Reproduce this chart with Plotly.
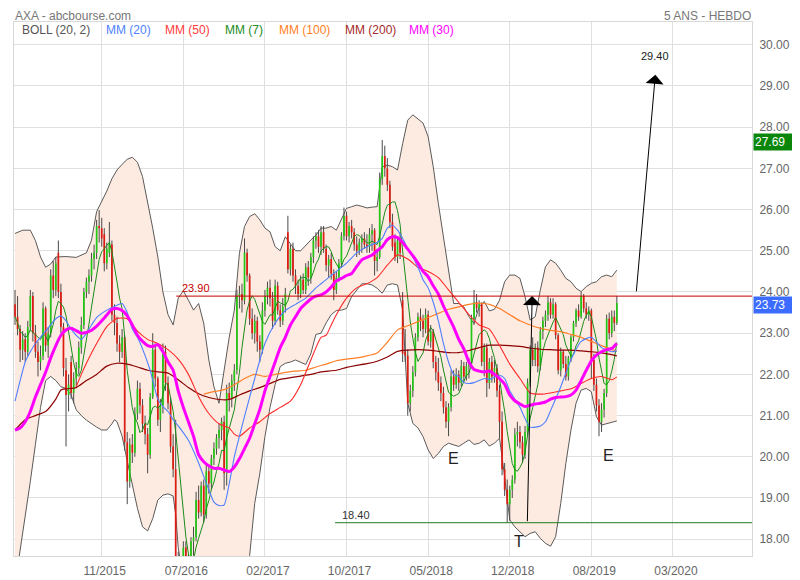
import pandas as pd
import plotly.graph_objects as go

# ---------------- weekly OHLC (AXA, weekly bars from 2015-04-06) ----------------
opens = [23.70,23.40,23.10,22.60,22.85,22.55,23.15,23.90,23.00,22.55,22.30,22.45,23.60,22.70,23.00,24.40,24.05,24.95,24.00,23.15,
         22.10,21.50,22.30,21.55,21.90,22.15,22.65,23.20,24.00,24.25,24.40,24.80,24.95,25.60,25.55,25.40,24.70,24.95,25.15,23.45,
         23.25,22.75,22.55,22.90,20.35,19.40,20.30,20.10,21.05,21.65,21.25,20.80,20.55,20.05,21.45,22.60,21.90,20.90,21.25,22.55,
         21.80,21.30,20.25,19.70,17.35,16.80,17.15,17.80,17.30,17.45,17.95,18.05,18.95,18.65,19.30,18.60,19.65,19.35,19.95,20.20,
         20.45,20.65,20.85,19.60,21.55,21.40,21.85,22.10,23.90,23.95,23.80,24.95,24.40,23.35,23.00,23.30,22.80,22.60,23.55,23.90,
         24.10,23.85,23.30,24.15,23.55,23.30,23.65,25.45,24.55,25.05,24.40,24.15,23.95,24.30,24.05,24.60,24.35,24.85,25.25,25.35,
         25.10,25.45,25.05,24.65,24.80,24.45,24.05,24.35,24.70,25.35,25.85,25.35,25.60,25.45,25.15,25.00,25.20,25.30,25.15,25.10,
         25.40,25.50,24.75,24.85,26.75,27.30,27.00,26.60,25.70,25.20,24.85,25.25,23.80,22.55,22.45,21.30,21.60,22.05,22.90,23.40,
         23.30,23.10,23.45,22.80,23.05,22.30,22.05,21.80,21.55,21.20,20.85,21.20,21.95,21.75,22.00,21.80,22.20,21.95,22.20,22.25,
         23.35,23.75,23.60,23.70,22.30,22.65,21.80,22.30,21.95,22.15,21.60,20.85,19.70,19.20,18.85,19.20,19.45,20.55,20.60,20.35,
         20.05,20.60,21.80,22.60,22.35,22.65,22.20,23.05,23.30,23.45,23.75,23.45,23.70,22.95,22.10,22.55,22.25,21.95,22.40,22.90,
         23.25,23.55,23.40,23.90,23.60,23.45,23.55,22.35,21.75,21.25,20.85,21.15,21.55,23.35,23.00,23.40,23.25]
highs = [24.05,23.90,23.20,23.05,23.00,23.30,24.05,24.00,23.20,22.80,22.70,23.75,23.65,23.15,24.55,24.75,24.85,25.25,24.20,23.25,
         22.40,22.00,22.45,22.05,22.30,22.80,23.40,24.10,24.35,24.55,24.95,25.15,25.75,25.99,25.80,25.55,25.20,25.70,25.25,23.70,
         23.40,22.95,23.10,22.95,20.60,20.45,20.55,21.20,21.85,21.80,21.40,21.00,20.70,21.55,23.00,22.75,21.95,21.40,22.75,22.70,
         21.95,21.45,20.55,20.90,17.70,17.40,17.95,17.95,17.65,18.05,18.30,19.15,19.30,19.40,19.45,19.80,19.75,20.05,20.35,20.55,
         20.80,20.95,21.00,21.75,21.80,22.00,22.25,24.05,24.15,24.20,25.30,25.05,24.45,23.60,23.45,23.40,22.95,23.75,24.05,24.25,
         24.30,24.00,24.30,24.25,23.70,23.85,24.10,25.85,25.15,25.20,24.55,24.30,24.40,24.45,24.70,24.75,24.95,25.35,25.45,25.50,
         25.60,25.60,25.15,24.90,24.95,24.55,24.50,24.80,25.45,26.05,25.95,25.70,25.75,25.55,25.35,25.30,25.40,25.45,25.40,25.55,
         25.65,25.55,25.05,26.90,27.69,27.55,27.25,26.70,25.90,25.40,25.35,25.45,24.00,23.10,22.60,21.75,22.20,23.00,23.50,23.60,
         23.45,23.60,23.55,23.20,23.10,22.45,22.40,21.95,21.70,21.35,21.30,22.10,22.10,22.15,22.10,22.35,22.30,22.30,22.40,23.45,
         24.05,23.95,23.80,23.75,22.75,22.75,22.40,22.45,22.35,22.25,21.75,21.10,19.85,19.45,19.30,19.55,20.70,20.85,20.75,20.50,
         20.75,21.90,22.70,22.90,22.75,22.80,23.15,23.40,23.55,23.90,23.85,23.85,23.75,23.00,22.65,22.60,22.45,22.45,22.95,23.30,
         23.60,23.70,24.00,23.95,23.75,23.65,23.60,22.50,21.90,21.40,21.30,21.65,23.45,23.50,23.55,23.55,23.90]
lows = [23.20,22.95,22.30,22.35,22.30,22.45,23.05,22.80,22.40,21.95,22.10,22.35,22.55,22.40,22.90,23.85,23.90,23.85,23.00,21.95,
        20.25,21.10,21.40,21.30,21.70,22.00,22.50,23.10,23.85,23.95,24.25,24.55,24.80,25.20,25.10,24.50,24.55,24.85,23.30,22.95,
        22.55,22.30,22.40,20.15,18.85,19.25,19.85,20.00,20.90,21.05,20.60,20.30,19.60,19.95,21.40,21.70,20.75,20.60,21.05,21.60,
        21.15,20.10,19.50,16.50,15.90,16.40,16.95,17.05,16.90,17.30,17.60,17.95,18.50,18.55,18.40,18.50,19.10,19.20,19.80,20.05,
        20.20,20.40,19.20,19.30,21.10,21.20,21.60,22.00,23.60,23.50,23.70,24.25,23.20,22.85,22.75,22.55,22.30,22.50,23.40,23.70,
        23.65,23.10,23.20,23.45,23.15,23.20,23.50,24.45,24.40,24.25,23.95,23.80,23.85,23.95,23.95,24.15,24.20,24.70,25.05,24.95,
        24.90,24.95,24.50,24.35,24.30,23.80,23.95,24.25,24.60,25.25,25.25,25.20,25.30,25.00,24.85,24.90,24.95,25.05,24.95,24.95,
        25.00,24.40,24.50,24.80,26.60,26.80,26.45,25.55,25.00,24.75,24.70,24.80,22.30,22.30,21.00,21.10,21.45,21.95,22.80,23.05,
        22.90,23.00,22.70,22.65,22.15,21.85,21.60,21.35,21.05,20.70,20.50,21.10,21.60,21.65,21.60,21.70,21.80,21.85,21.90,22.15,
        23.20,23.50,23.40,22.20,21.95,21.45,21.65,21.80,21.80,21.45,20.45,19.55,19.05,18.40,18.45,19.00,19.35,20.25,20.20,19.85,
        19.95,20.50,21.70,22.20,22.20,22.05,22.10,22.85,23.15,23.30,23.35,23.35,22.85,22.00,21.95,22.15,21.85,21.85,22.30,22.80,
        23.15,23.30,23.35,23.50,23.35,23.30,21.90,21.60,21.10,20.50,20.60,20.95,21.45,22.85,22.90,23.05,23.20]
closes = [23.40,23.10,22.60,22.85,22.55,23.15,23.90,23.00,22.55,22.30,22.45,23.60,22.70,23.00,24.40,24.05,24.70,24.00,23.15,22.15,
          21.50,21.75,21.55,21.90,22.15,22.65,23.20,24.00,24.25,24.40,24.80,24.95,25.60,25.55,25.30,24.70,25.05,25.20,23.45,23.25,
          22.75,22.55,22.90,20.35,19.40,20.30,20.10,21.05,21.65,21.25,20.80,20.55,20.05,21.45,22.60,21.90,20.90,21.25,22.55,21.80,
          21.30,20.25,19.70,17.35,16.80,17.15,17.80,17.30,17.45,17.95,18.05,18.95,18.65,19.30,18.60,19.65,19.35,19.95,20.20,20.45,
          20.65,20.85,19.60,21.55,21.40,21.85,22.10,23.90,23.95,23.80,24.95,24.40,23.35,23.00,23.30,22.80,22.60,23.55,23.90,24.10,
          23.85,23.30,24.15,23.55,23.30,23.65,23.95,24.55,25.05,24.40,24.15,23.95,24.30,24.05,24.60,24.35,24.85,25.25,25.35,25.10,
          25.45,25.05,24.65,24.80,24.45,24.05,24.35,24.70,25.35,25.85,25.35,25.60,25.45,25.15,25.00,25.20,25.30,25.15,25.10,25.40,
          25.50,24.75,24.85,26.75,27.30,27.00,26.60,25.70,25.10,24.85,25.25,24.95,22.50,22.45,21.30,21.60,22.05,22.90,23.40,23.30,
          23.10,23.45,22.80,23.05,22.30,22.05,21.80,21.55,21.20,20.85,21.20,21.95,21.75,22.00,21.80,22.20,21.95,22.20,22.25,23.35,
          23.75,23.60,23.70,22.30,22.65,21.80,22.30,21.95,22.15,21.60,20.85,19.70,19.20,18.85,19.20,19.45,20.55,20.60,20.35,20.05,
          20.60,21.80,22.60,22.35,22.65,22.20,23.05,23.30,23.45,23.75,23.45,23.70,22.95,22.10,22.55,22.25,21.95,22.40,22.90,23.25,
          23.55,23.40,23.90,23.60,23.45,23.55,22.35,21.75,21.25,20.85,21.15,21.55,23.35,23.00,23.40,23.25,23.73]

# ---------------- indicators: [bar number, value] ----------------
boll_upper = [[0,25.42],[3,25.50],[6,25.50],[8,25.25],[10,24.85],[12,24.60],[14,24.68],[16,24.85],[20,24.86],[24,24.84],
              [28,24.95],[30,25.26],[32,25.95],[34,26.20],[36,26.45],[38,26.75],[40,26.96],[42,27.10],[44,27.22],[46,27.27],
              [48,27.15],[50,26.80],[52,26.20],[54,25.55],[56,24.85],[58,24.00],[60,23.45],[62,23.20],[64,23.85],[66,24.03],
              [68,23.80],[70,23.56],[72,23.72],[74,23.24],[76,22.35],[78,21.70],[80,21.30],[82,22.10],[84,22.90],[86,23.56],
              [88,24.94],[90,25.59],[92,25.83],[94,25.90],[96,25.75],[98,25.55],[100,25.46],[102,25.10],[104,25.00],[106,25.34],
              [108,25.18],[110,25.00],[112,25.00],[114,25.14],[116,25.26],[118,25.38],[120,25.55],[122,25.55],[124,25.59],[126,25.50],
              [128,25.75],[130,26.03],[132,26.07],[134,26.11],[136,26.08],[138,26.04],[140,26.06],[142,26.07],[144,27.04],[146,27.08],
              [148,27.04],[150,26.96],[152,27.60],[154,28.17],[156,28.30],[158,28.20],[160,28.10],[162,27.77],[164,27.04],[166,26.15],
              [168,25.34],[170,24.53],[172,23.72],[174,23.72],[176,23.64],[178,23.40],[180,23.24],[182,23.64],[184,23.77],[186,23.54],
              [188,23.58],[190,23.80],[192,24.25],[194,24.41],[196,24.41],[198,24.33],[200,23.89],[202,23.32],[204,23.40],[206,24.05],
              [208,24.61],[210,24.78],[212,24.70],[214,24.53],[216,24.33],[218,24.25],[220,24.09],[222,24.01],[224,24.13],[226,24.21],
              [228,24.25],[230,24.37],[232,24.41],[234,24.37],[236,24.53]]
boll_lower = [[0,16.90],[2,17.70],[4,18.50],[6,19.40],[8,20.30],[10,21.20],[12,21.85],[14,21.95],[16,21.85],[18,21.70],
              [20,21.66],[22,21.50],[24,21.14],[26,21.00],[28,20.89],[30,20.80],[32,20.72],[34,20.65],[36,20.65],[38,20.80],
              [39,20.90],[40,20.85],[42,20.50],[44,19.90],[46,19.30],[48,18.75],[50,18.30],[52,18.20],[54,18.50],[56,18.95],
              [58,19.07],[60,19.10],[62,19.05],[63,18.60],[64,17.80],[66,16.90],[68,16.20],[70,15.80],[72,15.70],[74,15.80],
              [76,16.00],[78,16.30],[80,16.60],[82,16.80],[84,16.90],[86,17.00],[88,17.10],[90,17.30],[92,17.60],[94,18.87],
              [96,19.60],[98,20.49],[100,21.20],[102,21.75],[104,22.19],[106,22.27],[108,22.30],[110,22.35],[112,22.30],[114,22.24],
              [116,22.50],[118,22.97],[120,23.00],[122,23.25],[124,23.45],[126,23.55],[128,23.56],[130,23.60],[132,23.89],[134,24.05],
              [136,24.20],[138,24.20],[140,24.17],[142,24.09],[144,23.97],[146,24.17],[148,24.20],[150,24.17],[152,23.56],[154,21.30],
              [156,20.81],[158,20.70],[160,20.49],[162,20.17],[164,19.96],[166,20.08],[168,20.25],[170,20.33],[172,20.29],[174,20.25],
              [176,20.33],[178,20.41],[180,20.30],[182,20.33],[184,20.41],[186,20.26],[188,20.33],[190,20.45],[192,19.52],[194,18.47],
              [196,18.30],[198,18.18],[200,18.06],[202,18.14],[204,18.18],[206,18.02],[208,17.90],[210,17.83],[212,18.06],[214,18.87],
              [216,19.84],[218,20.65],[220,21.30],[222,21.62],[224,21.66],[226,21.58],[228,20.97],[230,20.77],[232,20.80],[234,20.83],
              [236,20.87]]
mm20 = [[0,21.35],[2,21.85],[4,22.30],[6,22.55],[8,22.75],[12,23.05],[16,23.35],[18,23.42],[20,23.30],[22,23.10],[24,22.95],
        [26,22.85],[28,23.00],[30,23.20],[32,23.38],[36,23.56],[40,23.68],[42,23.72],[44,23.50],[46,23.10],[48,22.90],[50,22.62],
        [53,22.10],[56,21.40],[58,21.22],[60,21.10],[62,20.90],[64,20.75],[68,20.40],[72,19.85],[76,19.20],[78,18.90],[80,18.82],
        [82,18.83],[84,19.35],[86,20.00],[88,20.50],[90,20.98],[94,21.90],[98,22.75],[102,23.24],[106,23.55],[110,23.70],[114,23.85],
        [118,24.10],[120,24.20],[122,24.30],[126,24.50],[130,24.70],[134,24.95],[138,25.10],[142,25.20],[144,25.30],[146,25.55],
        [148,25.62],[150,25.50],[152,25.30],[154,25.05],[156,24.85],[158,24.60],[160,24.30],[162,24.10],[164,23.75],[166,23.30],
        [168,22.75],[170,22.30],[172,22.00],[174,21.95],[176,21.80],[178,21.78],[180,21.80],[182,21.85],[184,21.90],[186,21.88],
        [190,21.98],[192,21.90],[194,21.60],[198,21.20],[202,20.72],[206,20.75],[208,20.85],[210,21.12],[214,21.70],[218,22.35],
        [222,22.80],[226,22.90],[230,22.65],[234,22.55],[236,22.57]]
mm50 = [[24,21.70],[26,22.00],[28,22.27],[32,22.75],[36,23.16],[40,23.36],[44,23.35],[48,23.05],[52,22.85],[56,22.75],
        [60,22.60],[64,22.37],[68,22.00],[72,21.46],[76,21.05],[80,20.80],[84,20.70],[86,20.55],[88,20.50],[92,20.70],
        [96,20.85],[100,21.05],[104,21.20],[108,21.35],[112,21.75],[116,22.35],[120,22.90],[122,22.95],[124,23.20],[126,23.45],
        [130,23.85],[134,24.10],[138,24.20],[142,24.35],[146,24.65],[150,24.90],[154,24.80],[158,24.60],[162,24.50],[166,24.35],
        [170,24.05],[174,23.75],[178,23.45],[182,23.20],[186,23.10],[190,22.70],[194,22.25],[198,21.90],[202,21.55],[206,21.52],
        [210,21.55],[214,21.60],[218,21.65],[222,21.78],[226,21.90],[230,21.95],[234,21.87],[236,21.94]]
mm100 = [[74,21.52],[78,21.58],[82,21.63],[86,21.75],[90,21.90],[94,22.00],[98,21.95],[102,22.00],[106,22.05],[110,22.08],
         [114,22.10],[118,22.18],[122,22.25],[126,22.33],[130,22.37],[134,22.40],[138,22.45],[142,22.52],[146,22.78],[150,23.08],
         [154,23.18],[158,23.28],[162,23.38],[166,23.48],[170,23.58],[174,23.64],[178,23.70],[182,23.73],[184,23.72],[186,23.70],
         [190,23.60],[194,23.45],[198,23.30],[202,23.20],[206,23.12],[210,23.07],[214,23.04],[218,22.97],[222,22.90],[226,22.80],
         [230,22.70],[234,22.60],[236,22.57]]
mm200 = [[0,20.65],[4,20.90],[8,21.00],[12,21.10],[16,21.40],[18,21.62],[20,21.65],[24,21.68],[28,21.85],[32,22.00],
         [36,22.20],[40,22.27],[44,22.25],[48,22.18],[52,22.10],[56,22.06],[60,22.03],[64,21.87],[68,21.68],[72,21.53],
         [76,21.44],[80,21.39],[84,21.39],[88,21.50],[92,21.60],[96,21.68],[100,21.78],[104,21.88],[108,21.92],[112,21.96],
         [116,22.00],[120,22.06],[126,22.10],[130,22.17],[134,22.22],[138,22.26],[142,22.32],[146,22.42],[150,22.56],[154,22.59],
         [158,22.60],[162,22.59],[166,22.56],[170,22.53],[174,22.53],[178,22.58],[182,22.65],[186,22.71],[190,22.71],[194,22.70],
         [198,22.68],[202,22.64],[206,22.61],[210,22.60],[214,22.59],[218,22.59],[222,22.57],[226,22.55],[230,22.52],[234,22.48],
         [236,22.45]]
mm30 = [[0,20.65],[2,20.70],[4,20.85],[6,21.10],[8,21.45],[10,21.75],[12,22.05],[14,22.40],[16,22.70],[18,22.95],[20,23.08],
        [22,23.12],[24,23.06],[26,23.00],[28,23.02],[30,23.07],[32,23.17],[34,23.30],[36,23.44],[38,23.58],[40,23.60],[42,23.55],
        [44,23.42],[46,23.20],[48,22.95],[50,22.80],[52,22.70],[54,22.68],[56,22.72],[58,22.55],[60,22.30],[62,22.10],[64,21.60],
        [66,21.20],[68,20.85],[70,20.50],[72,20.05],[74,19.88],[76,19.78],[78,19.72],[80,19.72],[82,19.68],[84,19.64],[86,19.75],
        [88,19.95],[90,20.20],[92,20.45],[94,20.80],[96,21.15],[98,21.60],[100,21.95],[102,22.30],[104,22.65],[106,22.90],[108,23.20],
        [110,23.40],[112,23.60],[114,23.72],[116,23.83],[118,23.90],[120,23.93],[122,24.00],[124,24.12],[126,24.27],[128,24.33],
        [130,24.40],[132,24.45],[134,24.62],[136,24.78],[138,24.84],[140,24.90],[142,25.00],[144,25.10],[146,25.27],[148,25.34],
        [150,25.32],[152,25.20],[154,25.04],[156,24.88],[158,24.70],[160,24.50],[162,24.37],[164,24.15],[166,23.95],[168,23.66],
        [170,23.40],[172,23.15],[174,22.85],[176,22.62],[178,22.30],[180,22.12],[182,22.08],[184,22.06],[186,22.08],[188,22.00],
        [190,21.90],[192,21.76],[194,21.50],[196,21.36],[198,21.28],[200,21.22],[202,21.25],[204,21.28],[206,21.30],[208,21.33],
        [210,21.40],[212,21.44],[214,21.45],[216,21.46],[218,21.50],[220,21.62],[222,21.85],[224,22.10],[226,22.33],[228,22.47],
        [230,22.55],[232,22.60],[234,22.63],[236,22.75]]

# x-axis labels (dates of the labelled bars)
tick_dates = ["2015-11-30", "2016-07-11", "2017-02-20", "2017-10-02",
              "2018-05-14", "2018-12-24", "2019-08-05", "2020-03-16"]
tick_labels = ["11/2015", "07/2016", "02/2017", "10/2017", "05/2018", "12/2018", "08/2019", "03/2020"]
price_ticks = [18, 19, 20, 21, 22, 23, 24, 25, 26, 27, 28, 29, 30]

resistance = 23.90
support = 18.40
target = 29.40
period_high = 27.69
last_close = 23.73

# ---------------- helpers ----------------
start = pd.Timestamp("2015-04-06")


def at(bar):
    return start + pd.Timedelta(days=7 * bar)


dates = [at(i) for i in range(len(closes))]


def knots(pairs):
    return [at(b) for b, _ in pairs], [v for _, v in pairs]


mm7 = pd.Series(closes).rolling(7, min_periods=1).mean().round(3).tolist()

wick_x, wick_y = [], []
for d, h, l in zip(dates, highs, lows):
    wick_x += [d, d, None]
    wick_y += [h, l, None]

fig = go.Figure()

# --- base layer: Bollinger fill + wicks ---
lx, ly = knots(boll_lower)
ux, uy = knots(boll_upper)
fig.add_trace(go.Scatter(x=lx, y=ly, mode="lines", line=dict(color="#5a5a5a", width=1),
                         hoverinfo="skip", showlegend=False))
fig.add_trace(go.Scatter(x=ux, y=uy, mode="lines", line=dict(color="#5a5a5a", width=1),
                         fill="tonexty", fillcolor="#fdebe1", hoverinfo="skip", showlegend=False))
fig.add_trace(go.Scatter(x=wick_x, y=wick_y, mode="lines", line=dict(color="#4a4a4a", width=1),
                         hoverinfo="skip", showlegend=False))

# --- overlay layer: candle bodies + moving averages ---
fig.add_trace(go.Candlestick(
    x=dates, open=opens, high=highs, low=lows, close=closes,
    increasing=dict(line=dict(color="#22c814", width=0), fillcolor="#22c814"),
    decreasing=dict(line=dict(color="#e01b12", width=0), fillcolor="#e01b12"),
    xaxis="x2", yaxis="y2", showlegend=False, name="AXA"))

fig.add_trace(go.Scatter(x=dates, y=mm7, mode="lines", line=dict(color="#1a8c1a", width=1),
                         xaxis="x2", yaxis="y2", showlegend=False, name="MM (7)"))
for pairs, col, w, nm in [(mm200, "#8b0000", 1.2, "MM (200)"), (mm100, "#ff7f27", 1.2, "MM (100)"),
                          (mm50, "#ff2a2a", 1.1, "MM (50)"), (mm20, "#4f7fff", 1.1, "MM (20)"),
                          (mm30, "#ff00ff", 3, "MM (30)")]:
    xs, ys = knots(pairs)
    fig.add_trace(go.Scatter(x=xs, y=ys, mode="lines", line=dict(color=col, width=w, shape="spline", smoothing=0.6),
                             xaxis="x2", yaxis="y2", showlegend=False, name=nm))

x_range = [at(-0.4), at(289.0)]
y_range = [17.592, 30.553]

# the page adds an 8px body margin, so the figure is 8px smaller and margins are shifted
fig.update_layout(
    template="none",
    width=792, height=572,
    margin=dict(l=6, r=48, t=14, b=24, pad=0),
    boxgap=0.05,
    paper_bgcolor="white", plot_bgcolor="white",
    font=dict(family="Liberation Sans, Arial, sans-serif", size=12, color="#666"),
    xaxis=dict(type="date", range=x_range, tickvals=tick_dates, ticktext=tick_labels, automargin=False,
               showgrid=True, gridcolor="#dfdfdf", gridwidth=1, zeroline=False,
               showline=True, linecolor="#d8d8d8", linewidth=1, mirror=True, ticks="",
               tickfont=dict(size=12, color="#666"), ticklabelshift=3, ticklabelstandoff=4),
    yaxis=dict(side="right", range=y_range, tickvals=price_ticks, tickformat=".2f", automargin=False,
               showgrid=True, gridcolor="#dfdfdf", gridwidth=1, zeroline=False,
               showline=True, linecolor="#d8d8d8", linewidth=1, mirror=True, ticks="",
               tickfont=dict(size=12, color="#666"), ticklabelstandoff=4),
    xaxis2=dict(type="date", overlaying="x", anchor="y2", range=x_range, visible=False, automargin=False,
                rangeslider=dict(visible=False)),
    yaxis2=dict(overlaying="y", anchor="x2", range=y_range, visible=False, automargin=False),
    showlegend=False,
)

# horizontal levels
fig.add_shape(type="line", xref="x", yref="y", x0=at(63.2), x1=x_range[1], y0=resistance, y1=resistance,
              line=dict(color="#c80000", width=1))
fig.add_shape(type="line", xref="x", yref="y", x0=at(125.5), x1=x_range[1], y0=support, y1=support,
              line=dict(color="#1e7b1e", width=1))

ann = []
ann.append(dict(text="AXA - abcbourse.com", xref="paper", yref="paper", x=0, xanchor="left",
                y=1 + 14 / 534, yanchor="top", borderpad=0, showarrow=False, font=dict(size=12, color="#777")))
ann.append(dict(text="5 ANS - HEBDO", xref="paper", yref="paper", x=1, xanchor="right",
                y=1 + 14 / 534, yanchor="top", borderpad=0, showarrow=False, font=dict(size=12, color="#777")))
legend_items = [("BOLL (20, 2)", "#555555", 20), ("MM (20)", "#4f7fff", 104), ("MM (50)", "#ff3b3b", 163),
                ("MM (7)", "#228b22", 223), ("MM (100)", "#ff7f27", 277), ("MM (200)", "#a52a2a", 343),
                ("MM (30)", "#ff00ff", 407)]
for txt, col, px in legend_items:
    ann.append(dict(text=txt, xref="paper", yref="paper", x=(px - 14) / 738, xanchor="left",
                    y=(556 - 30) / 534, yanchor="middle", showarrow=False, font=dict(size=12, color=col)))

ann.append(dict(text=f"{resistance:.2f}", xref="x", yref="y", x=at(64.7), y=resistance, xanchor="left",
                yanchor="bottom", showarrow=False, font=dict(size=11, color="#c80000")))
ann.append(dict(text=f"{support:.2f}", xref="x", yref="y", x=at(127.5), y=support, xanchor="left",
                yanchor="bottom", showarrow=False, font=dict(size=11, color="#333")))
ann.append(dict(text=f"{target:.2f}", xref="x", yref="y", x=at(251), y=29.72, xanchor="center",
                yanchor="middle", showarrow=False, font=dict(size=11, color="#222")))
# arrows
ann.append(dict(text="", xref="x", yref="y", x=at(202.8), y=resistance, axref="x", ayref="y",
                ax=at(200.9), ay=support, showarrow=True, arrowhead=1, arrowsize=3, arrowwidth=1,
                arrowcolor="black"))
ann.append(dict(text="", xref="x", yref="y", x=at(251.1), y=29.27, axref="x", ayref="y",
                ax=at(243.6), ay=23.98, showarrow=True, arrowhead=1, arrowsize=3, arrowwidth=1,
                arrowcolor="black"))
for txt, b, p in [("E", 172, 19.97), ("E", 232.6, 20.02), ("T", 197.7, 17.95)]:
    ann.append(dict(text=txt, xref="x", yref="y", x=at(b), y=p, showarrow=False,
                    font=dict(size=16, color="#222")))
# price tags on the right axis
for val, col in [(period_high, "#0a870a"), (last_close, "#3b6cff")]:
    ann.append(dict(text=f"{val:.2f}", xref="paper", yref="y", x=1, xanchor="left", xshift=1, y=val,
                    yshift=-2, showarrow=False, bgcolor=col, font=dict(size=12, color="white"),
                    width=44, align="left", borderpad=1))
fig.update_layout(annotations=ann)

fig.write_html("out.html")
